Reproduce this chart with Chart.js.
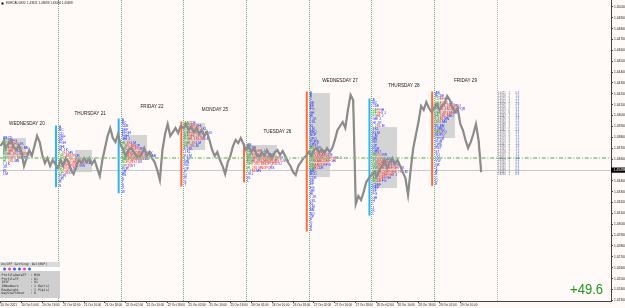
<!DOCTYPE html>
<html><head><meta charset="utf-8">
<style>html,body{margin:0;padding:0;background:#fff9f7;}canvas{display:block}</style>
<script src="https://cdn.jsdelivr.net/npm/chart.js@4/dist/chart.umd.min.js"></script>
</head><body>
<canvas id="c" width="625" height="308"></canvas>
<script>
// ---- data (hourly closes, EURCAD M30 view) ----
const closes = [
1.43720,1.43756,1.43701,1.43738,1.43775,1.43710,1.43683,1.43729,1.43664,1.43536,
1.43609,1.43683,1.43628,1.43720,1.43812,1.43756,1.43637,1.43563,1.43609,1.43536,
1.43591,1.43554,1.43517,1.43591,1.43536,1.43609,1.43572,1.43499,1.43462,1.43536,
1.43591,1.43563,1.43609,1.43572,1.43609,1.43554,1.43591,1.43517,1.43444,1.43591,
1.43701,1.43812,1.43885,1.43793,1.43756,1.43830,1.43729,1.43683,1.43628,1.43683,
1.43701,1.43664,1.43628,1.43609,1.43646,1.43701,1.43628,1.43664,1.43609,1.43572,
1.43499,1.43407,1.43683,1.43830,1.43922,1.43812,1.43848,1.43885,1.43839,1.43904,
1.43885,1.43922,1.43867,1.43894,1.43848,1.43885,1.43830,1.43867,1.43812,1.43848,
1.43775,1.43683,1.43628,1.43664,1.43591,1.43536,1.43462,1.43572,1.43628,1.43720,
1.43775,1.43747,1.43793,1.43738,1.43683,1.43720,1.43664,1.43701,1.43646,1.43609,
1.43664,1.43628,1.43683,1.43637,1.43609,1.43664,1.43683,1.43637,1.43674,1.43628,
1.43572,1.43536,1.43480,1.43453,1.43536,1.43572,1.43609,1.43628,1.43664,1.43628,
1.43683,1.43701,1.43664,1.43692,1.43655,1.43701,1.43664,1.43701,1.43775,1.43867,
1.43904,1.43940,1.43885,1.44051,1.44189,1.44143,1.43186,1.43260,1.43223,1.43296,
1.43388,1.43425,1.43453,1.43480,1.43444,1.43499,1.43536,1.43591,1.43517,1.43572,
1.43609,1.43554,1.43591,1.43536,1.43480,1.43425,1.43269,1.43499,1.43701,1.43821,
1.43940,1.44088,1.44051,1.44124,1.44069,1.44032,1.44069,1.44106,1.44051,1.44088,
1.44115,1.44180,1.44143,1.44069,1.44032,1.44069,1.43922,1.43867,1.43775,1.43701,
1.43756,1.43830,1.43922,1.43775,1.43480
];
const xTickLabels = ["20 Oct 2021","20 Oct 10:00","20 Oct 18:00","21 Oct 02:00","21 Oct 10:00","21 Oct 18:00",
"22 Oct 02:00","22 Oct 10:00","22 Oct 18:00","25 Oct 02:00","25 Oct 10:00","25 Oct 18:00","26 Oct 02:00",
"26 Oct 10:00","26 Oct 18:00","27 Oct 02:00","27 Oct 10:00","27 Oct 18:00","28 Oct 02:00","28 Oct 10:00",
"28 Oct 18:00","29 Oct 02:00","29 Oct 10:00"];
const dayNames = ["WEDNESDAY 20","THURSDAY 21","FRIDAY 22","MONDAY 25","TUESDAY 26","WEDNESDAY 27","THURSDAY 28","FRIDAY 29"];
const dayLabelHour = [10.1,34.3,58,82.1,106,130,154.4,178];
const dayLabelPrice = [1.43922,1.44019,1.44083,1.44051,1.43853,1.44318,1.44276,1.44318];
const separatorHours = [22,46,70,94,118,142,166,190];
const vaStartHour = [0.96,28.5,46.9,69.9,94.0,118.1,142.2,165.5];
const vaEndHour = [9.76,35.0,56.1,78.3,105.8,126.1,151.8,174.0];
const vaHigh = [1.43793,1.43683,1.43821,1.43931,1.43729,1.44207,1.43894,1.44115];
const vaLow = [1.43618,1.43480,1.43591,1.43683,1.43563,1.43434,1.43333,1.43793];
const profileStartHour = [0.6,22,46,70,94,118,142,166];
const profileTop = [1.43793,1.43894,1.43959,1.43931,1.43729,1.44207,1.44143,1.44207];
const profileCounts = [
[4,6,9,11,8,13,10,7,3,2,2,2],
[1,2,2,3,2,3,3,4,6,9,12,14,11,8,6,3,2,1,1],
[1,2,3,3,4,3,4,6,8,10,13,15,12,9,6,3,2,2,1,1,1,1,1],
[5,8,10,12,9,11,7,6,4,3,3,2,2,2,2,1,1,1,1,1],
[2,4,8,12,16,18,15,12,6,3,2,1],
[1,1,1,2,2,2,2,2,3,3,2,2,3,3,3,4,4,5,7,10,14,12,9,6,3,3,3,2,2,2,2,2,3,3,2,2,2,2,2,1,1,1,1],
[1,2,3,5,6,5,4,4,5,3,3,2,2,2,2,3,4,6,8,10,12,14,15,11,8,6,4,3,2,2,2,1,1,1,1,1],
[2,4,6,8,11,13,10,8,6,5,4,4,5,4,4,3,3,3,2,2,2,2,2,1,1,1,1,1,1]
];
const profileBarColor = [null,'#2fb6f2','#2fb6f2','#ff6a3a','#ff6a3a','#ff6a3a','#2fb6f2','#ff6a3a'];
const rowStep = 0.0003;
const levelPrice = 1.43609;
const currentPrice = 1.43498;
const profitText = "+49.6";
const headerText = "EURCAD,M30  1.43611 1.43699 1.43494 1.43498";
const settingTitle = "On/OFF Setting: Del(BUP)";
const settingLines = ["ProfileDataTF  : M30","ProfileTF      : D1","IBTF           : H1","IBNumbers      : 1 Bar(s)","RowHeight      : 2 Pip(s)","DayStartHour   : 0"];
const settingDots = ['#3a5cff','#ff3aa8','#3a5cff','#3a5cff','#ff3aa8','#3a5cff'];
const tablePrices = [1.4421,1.4418,1.4415,1.4412,1.4409,1.4406,1.4403,1.4400,1.4397,1.4394,1.4391,1.4388,1.4385,1.4382,1.4379,1.4376,1.4373,1.4370,1.4367,1.4364,1.4361,1.4358,1.4355,1.4352,1.4349,1.4346,1.4343,1.4340,1.4337,1.4334];
const tableCounts = [1,2,3,4,5,4,6,8,7,5,4,3,4,5,6,4,3,3,2,2,3,2,2,1,1,1,1,1,1,1];
const tablePcts = [0.5,1.0,1.5,2.1,2.6,2.1,3.1,4.1,3.6,2.6,2.1,1.5,2.1,2.6,3.1,2.1,1.5,1.5,1.0,1.0,1.5,1.0,1.0,0.5,0.5,0.5,0.5,0.5,0.5,0.5];

const FONT = 'Liberation Sans';
const points = closes.map((c,i)=>({x:i,y:c}));

const drawPlugin = {
  id:'mt4',
  beforeDraw(chart){
    const c = chart.ctx; c.save(); c.fillStyle='#fff9f7'; c.fillRect(0,0,chart.width,chart.height); c.restore();
  },
  beforeDatasetsDraw(chart){
    const c = chart.ctx, xs = chart.scales.x, ys = chart.scales.y, a = chart.chartArea;
    c.save();
    c.fillStyle = '#d5d4d4';
    for (let i=0;i<vaHigh.length;i++){
      const x1 = xs.getPixelForValue(vaStartHour[i]), x2 = xs.getPixelForValue(vaEndHour[i]);
      const y1 = ys.getPixelForValue(vaHigh[i]), y2 = ys.getPixelForValue(vaLow[i]);
      c.fillRect(x1,y1,x2-x1,y2-y1);
    }
    c.lineWidth = 1; c.setLineDash([1,1]);
    separatorHours.forEach((h,i)=>{
      const x = Math.round(xs.getPixelForValue(h))+0.5;
      c.strokeStyle = i===separatorHours.length-1 ? '#b4b4b4' : '#6fa86f';
      c.beginPath(); c.moveTo(x,a.top); c.lineTo(x,a.bottom); c.stroke();
    });
    c.setLineDash([]);
    const yc = Math.round(ys.getPixelForValue(currentPrice))+0.5;
    c.strokeStyle = '#c9c9c9'; c.beginPath(); c.moveTo(a.left,yc); c.lineTo(a.right,yc); c.stroke();
    const alpha = 'ABCDEFGHIJKLMNOPQRSTUVWX';
    c.font = '3.3px ' + FONT; c.textBaseline = 'middle'; c.textAlign = 'left';
    profileCounts.forEach((rows,d)=>{
      const x0 = xs.getPixelForValue(profileStartHour[d]) + 1;
      rows.forEach((n,r)=>{
        const y = ys.getPixelForValue(profileTop[d] - r*rowStep);
        for (let k=0;k<n;k++){
          let col = '#1028ff';
          if (n>=5){ col = k<2 ? '#0a9a0a' : (k>=n-2 ? '#1028ff' : '#ff1a1a'); }
          c.fillStyle = col;
          c.fillText(alpha[(r+k)%alpha.length], x0 + k*2.3, y);
        }
      });
      if (profileBarColor[d]){
        const yt = ys.getPixelForValue(profileTop[d]) - 1.5;
        const yb = ys.getPixelForValue(profileTop[d] - (rows.length-1)*rowStep) + 1.5;
        c.fillStyle = profileBarColor[d];
        c.fillRect(xs.getPixelForValue(profileStartHour[d]) - 3, yt, 2, yb-yt);
      }
    });
    c.restore();
  },
  afterDatasetsDraw(chart){
    const c = chart.ctx, xs = chart.scales.x, ys = chart.scales.y, a = chart.chartArea;
    c.save();
    const yl = ys.getPixelForValue(levelPrice);
    c.strokeStyle = '#80c880'; c.lineWidth = 1.6; c.setLineDash([4,1.8,1,1.8]);
    c.beginPath(); c.moveTo(a.left,yl); c.lineTo(a.right,yl); c.stroke();
    c.setLineDash([]);
    c.font = '4.6px ' + FONT; c.fillStyle = '#1a1a1a'; c.textAlign = 'center'; c.textBaseline = 'middle';
    dayNames.forEach((t,i)=>c.fillText(t, xs.getPixelForValue(dayLabelHour[i]), ys.getPixelForValue(dayLabelPrice[i])));
    c.font = '2.7px ' + FONT; c.textAlign = 'left';
    tablePrices.forEach((p,i)=>{
      const y = 93.5 + i*2.8;
      c.fillStyle = '#6a7088'; c.fillText(p.toFixed(4), 497.5, y);
      c.fillStyle = '#6a7088'; c.fillText(String(tableCounts[i]), 508.5, y);
      c.fillStyle = '#3f5fd0'; c.fillText(tablePcts[i].toFixed(1), 515.5, y);
    });
    c.fillStyle = '#d9d9d9'; c.fillRect(0,262,60,5);
    c.fillStyle = '#ffffff'; c.fillRect(0,267,60,4);
    c.fillStyle = '#cfcfcf'; c.fillRect(0,271,60,27);
    c.font = '3.2px "DejaVu Sans Mono"'; c.fillStyle = '#222'; c.textBaseline='middle';
    c.fillText(settingTitle, 1, 264.6);
    settingDots.forEach((col,i)=>{ c.fillStyle = col; c.beginPath(); c.arc(4.5+i*5,269,1.5,0,Math.PI*2); c.fill(); });
    c.fillStyle = '#222';
    settingLines.forEach((t,i)=>c.fillText(t, 1.5, 275 + i*3.7));
    c.save(); c.translate(603,293.5); c.scale(0.84,1);
    c.font = '15.5px ' + FONT; c.fillStyle = '#1f961f'; c.textAlign='right'; c.textBaseline='alphabetic';
    c.fillText(profitText,0,0); c.restore();
    c.fillStyle = '#000'; c.fillRect(1.5,2.5,2,2);
    c.font = '3px ' + FONT; c.textAlign='left'; c.textBaseline='middle'; c.fillStyle='#222';
    c.fillText(headerText, 6, 3.6);
    const yc = ys.getPixelForValue(currentPrice);
    c.fillStyle = '#000'; c.fillRect(a.right, yc-2.6, 14, 5.2);
    c.fillStyle = '#fff'; c.font = '3.3px ' + FONT; c.fillText(currentPrice.toFixed(5), a.right+2.5, yc);
    c.restore();
  }
};

const chart = new Chart(document.getElementById('c'), {
  type:'line',
  data:{datasets:[
    {data:points, borderColor:'#8c8c8c', borderWidth:2.2, pointRadius:0, tension:0},
    {data:points, borderColor:'#1a1a1a', borderWidth:0.9, pointRadius:0, tension:0}
  ]},
  options:{
    responsive:false, animation:false, devicePixelRatio:1,
    layout:{padding:0},
    plugins:{legend:{display:false}, tooltip:{enabled:false}},
    scales:{
      x:{type:'linear', min:-0.19, max:233.7,
        border:{display:true,color:'#444'},
        grid:{drawOnChartArea:false, tickLength:2, color:ctx=> (ctx.tick && ctx.tick.value<=176) ? '#444' : 'rgba(0,0,0,0)'},
        ticks:{stepSize:8, includeBounds:false, autoSkip:false, maxRotation:0, minRotation:0, align:'start', padding:0,
          font:{size:3, family:FONT}, color:'#222',
          callback:v=> xTickLabels[Math.round(v/8)] ?? ''},
        afterFit:s=>{s.height=7; s.paddingLeft=0; s.paddingRight=0;}
      },
      y:{type:'linear', position:'right', min:1.42294, max:1.45063,
        border:{display:true,color:'#444'},
        grid:{drawOnChartArea:false, tickLength:2, color:'#444'},
        ticks:{stepSize:0.001, includeBounds:false, padding:1, font:{size:3.3, family:FONT}, color:'#222',
          callback:v=> v.toFixed(5)},
        afterFit:s=>{s.width=14; s.paddingTop=0; s.paddingBottom=0;}
      }
    }
  },
  plugins:[drawPlugin]
});
</script>
</body></html>
